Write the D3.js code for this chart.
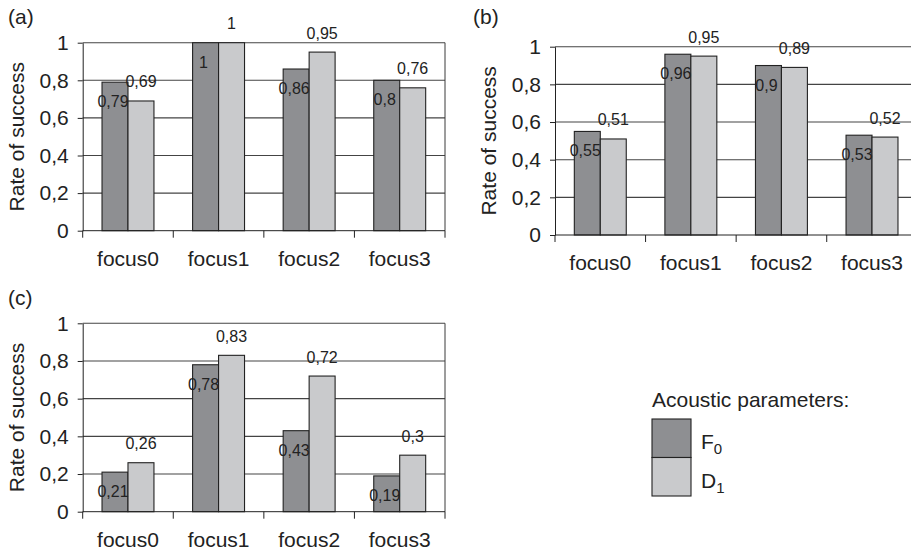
<!DOCTYPE html>
<html>
<head>
<meta charset="utf-8">
<script src="https://cdn.jsdelivr.net/npm/d3@7"></script>
<style>
  body { margin: 0; background: #fff; }
  text { font-family: "Liberation Sans", Arial, sans-serif; fill: #222; }
</style>
</head>
<body>
<script>
// data
const categories = ["focus0", "focus1", "focus2", "focus3"];
const seriesNames = ["F0", "D1"];
const panelA_F0 = [0.79, 1, 0.86, 0.8];
const panelA_D1 = [0.69, 1, 0.95, 0.76];
const panelB_F0 = [0.55, 0.96, 0.9, 0.53];
const panelB_D1 = [0.51, 0.95, 0.89, 0.52];
const panelC_F0 = [0.21, 0.78, 0.43, 0.19];
const panelC_D1 = [0.26, 0.83, 0.72, 0.3];
const yTicks = [0, 0.2, 0.4, 0.6, 0.8, 1];
const yTitle = "Rate of success";
const legendTitle = "Acoustic parameters:";

const width = 911, height = 550;
const colors = {F0: "#8e8f92", D1: "#c9cacc"};
const fmt = d => String(d).replace(".", ",");

const svg = d3.select("body").append("svg")
    .attr("width", width)
    .attr("height", height);

// panel boxes (plot area in pixels)
const panels = [
  {tag: "(a)", f0: panelA_F0, d1: panelA_D1, left: 82.7, right: 445, top: 42.7, bottom: 230.7, tagX: 8, tagY: 24},
  {tag: "(b)", f0: panelB_F0, d1: panelB_D1, left: 555, right: 917.3, top: 46.7, bottom: 235, tagX: 473, tagY: 24},
  {tag: "(c)", f0: panelC_F0, d1: panelC_D1, left: 82.7, right: 445, top: 323.3, bottom: 511.7, tagX: 8, tagY: 305}
];

panels.forEach(p => drawPanel(p));

function drawPanel(p) {
  const g = svg.append("g");

  const x = d3.scaleBand().domain(categories).range([p.left, p.right]);
  const xs = d3.scaleBand().domain(seriesNames).range([0, x.bandwidth()]).paddingOuter(0.744);
  const y = d3.scaleLinear().domain([0, 1]).range([p.bottom, p.top]);

  // grid lines
  g.append("g")
    .selectAll("line")
    .data(yTicks.filter(d => d > 0))
    .join("line")
      .attr("x1", p.left).attr("x2", p.right)
      .attr("y1", d => y(d)).attr("y2", d => y(d))
      .attr("stroke", "#444")
      .attr("stroke-width", 1.1);

  // right border
  g.append("line")
    .attr("x1", p.right).attr("x2", p.right)
    .attr("y1", p.top).attr("y2", p.bottom)
    .attr("stroke", "#3a3a3a");

  // bars
  const rows = categories.map((c, i) => ({cat: c, F0: p.f0[i], D1: p.d1[i]}));
  const grp = g.append("g").selectAll("g")
    .data(rows)
    .join("g")
      .attr("transform", d => `translate(${x(d.cat)},0)`);

  grp.selectAll("rect")
    .data(d => seriesNames.map(s => ({s: s, v: d[s]})))
    .join("rect")
      .attr("x", d => xs(d.s))
      .attr("y", d => y(d.v))
      .attr("width", xs.bandwidth())
      .attr("height", d => y(0) - y(d.v))
      .attr("fill", d => colors[d.s])
      .attr("stroke", "#222")
      .attr("stroke-width", 1.1);

  // value labels: F0 inside below top, D1 above
  grp.selectAll("text.val")
    .data(d => seriesNames.map(s => ({s: s, v: d[s]})))
    .join("text")
      .attr("class", "val")
      .attr("x", d => xs(d.s) + xs.bandwidth() / 2 + (d.s === "F0" ? -2 : 0))
      .attr("y", d => d.s === "F0" ? y(d.v) + 25 : y(d.v) - 13.5)
      .attr("text-anchor", "middle")
      .style("font-size", "16px")
      .text(d => fmt(d.v));

  // y axis
  const yAxis = g.append("g")
    .attr("transform", `translate(${p.left},0)`)
    .call(d3.axisLeft(y).tickValues(yTicks).tickFormat(fmt).tickSize(5).tickPadding(9).tickSizeOuter(0));
  yAxis.select(".domain").attr("stroke", "#222");
  yAxis.selectAll(".tick line").attr("stroke", "#222");
  yAxis.selectAll("text")
    .style("font-size", "21px")
    .style("font-family", "Liberation Sans, Arial, sans-serif")
    .attr("fill", "#222");

  // x axis line with ticks at band boundaries
  g.append("line")
    .attr("x1", p.left).attr("x2", p.right)
    .attr("y1", p.bottom).attr("y2", p.bottom)
    .attr("stroke", "#222");
  const bounds = categories.map(c => x(c)).concat([p.right]);
  g.append("g").selectAll("line")
    .data(bounds)
    .join("line")
      .attr("x1", d => d).attr("x2", d => d)
      .attr("y1", p.bottom).attr("y2", p.bottom + 7)
      .attr("stroke", "#222");

  g.append("g").selectAll("text")
    .data(categories)
    .join("text")
      .attr("x", d => x(d) + x.bandwidth() / 2)
      .attr("y", p.bottom + 35)
      .attr("text-anchor", "middle")
      .style("font-size", "21px")
      .text(d => d);

  // y title
  g.append("text")
    .attr("transform", `translate(${p.left - 59},${(p.top + p.bottom) / 2}) rotate(-90)`)
    .attr("text-anchor", "middle")
    .style("font-size", "21px")
    .text(yTitle);

  // panel tag
  g.append("text")
    .attr("x", p.tagX)
    .attr("y", p.tagY)
    .style("font-size", "21px")
    .text(p.tag);
}

// legend
const lg = svg.append("g").attr("transform", "translate(652,407)");
lg.append("text")
  .attr("x", 0).attr("y", 0)
  .style("font-size", "21px")
  .text(legendTitle);

const item = lg.selectAll("g.item")
  .data(seriesNames)
  .join("g")
    .attr("class", "item")
    .attr("transform", (d, i) => `translate(0,${12 + i * 38.5})`);

item.append("rect")
  .attr("width", 39).attr("height", 38.5)
  .attr("fill", d => colors[d])
  .attr("stroke", "#222")
  .attr("stroke-width", 1.1);

const lt = item.append("text")
  .attr("x", 49).attr("y", 30)
  .style("font-size", "21px");
lt.append("tspan").text(d => d[0]);
lt.append("tspan").attr("dy", 5).style("font-size", "15px").text(d => d.slice(1));
</script>
</body>
</html>
